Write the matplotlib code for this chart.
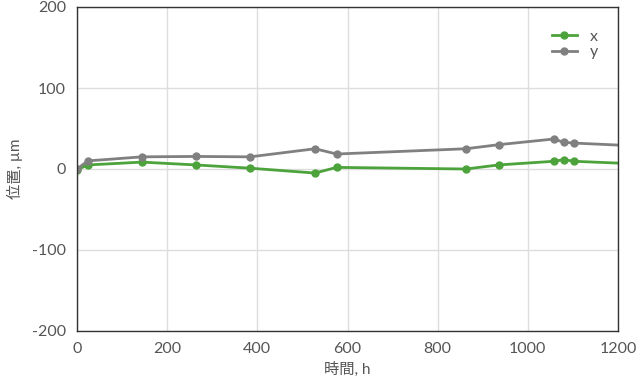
import matplotlib
matplotlib.use("Agg")
import matplotlib.pyplot as plt

time_h = [0, 24, 144, 264, 384, 528, 576, 863, 935, 1057, 1080, 1103, 1300]
pos_x = [-1, 5, 8.5, 5, 1, -5, 2, 0, 5, 9.5, 11.5, 9.5, 5]
pos_y = [0, 10, 15, 15.5, 15, 25, 18.5, 25, 30, 37, 33, 32, 27]

xticks = [0, 200, 400, 600, 800, 1000, 1200]
yticks = [-200, -100, 0, 100, 200]

plt.rcParams['font.family'] = ['Lato', 'Noto Sans CJK JP', 'DejaVu Sans']
plt.rcParams['axes.unicode_minus'] = False

fig = plt.figure(figsize=(6.36, 3.85), dpi=100)
ax = fig.add_axes([77/636, 1-331/385, (618-77)/636, (331-7)/385])

green = '#4da33b'
gray = '#808080'
ax.plot(time_h, pos_x, color=green, lw=2, marker='o', ms=5, label='x', clip_on=True)
ax.plot(time_h, pos_y, color=gray, lw=2, marker='o', ms=5, label='y', clip_on=True)

ax.set_xlim(0, 1200)
ax.set_ylim(-200, 200)
ax.set_xticks(xticks)
ax.set_yticks(yticks)
ax.grid(True, color='#dddddd', lw=1)
ax.set_axisbelow(True)
ax.tick_params(length=0, labelsize=11.5, labelcolor='#555555', pad=8)
for s in ax.spines.values():
    s.set_color('#333333')
    s.set_linewidth(1)

ax.set_xlabel('時間, h', fontsize=11, color='#555555', labelpad=4)
ax.set_ylabel('位置, µm', fontsize=11, color='#555555', labelpad=6)

leg = ax.legend(loc='upper right', bbox_to_anchor=(0.99, 0.975), frameon=False, fontsize=11.5,
                handlelength=1.6, labelcolor='#555555', borderaxespad=0.5,
                handletextpad=0.8, labelspacing=0.1)

fig.savefig('out.png', dpi=100)
